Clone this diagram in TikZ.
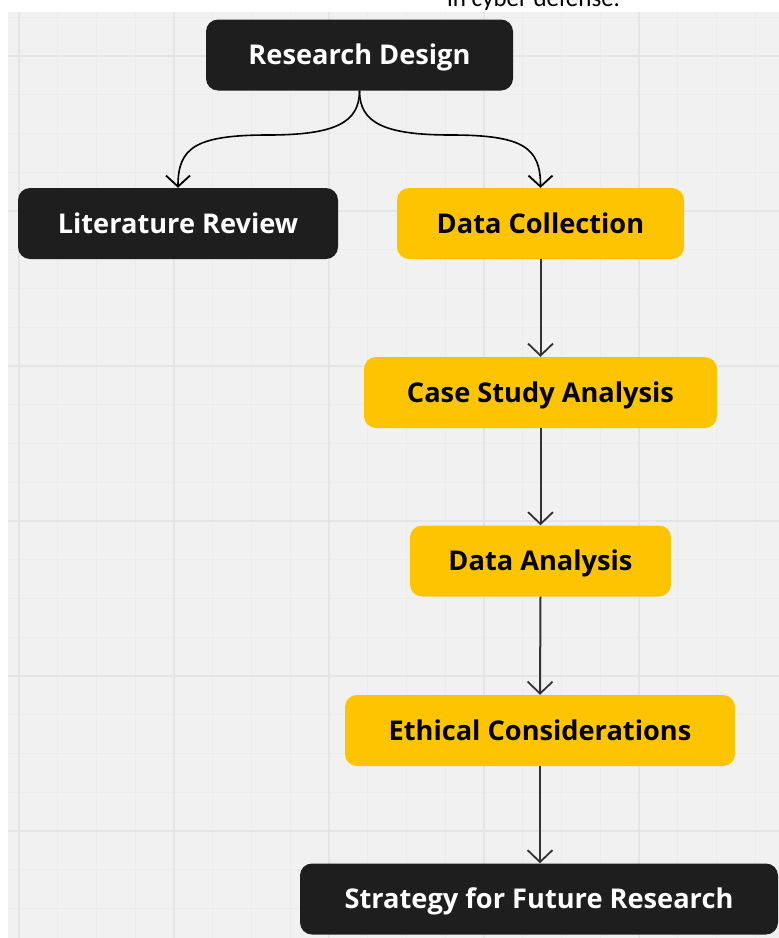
\documentclass[tikz,border=0pt]{standalone}
\usepackage{fontspec}
\setmainfont{Open Sans}
\newfontfamily\notefont{Carlito}
\usetikzlibrary{arrows.meta,calc}

\definecolor{canvas}{HTML}{F1F1F1}
\definecolor{gridminor}{HTML}{ECECEC}
\definecolor{gridmajor}{HTML}{E5E5E5}
\definecolor{darkbox}{HTML}{1E1E1E}
\definecolor{ambbox}{HTML}{FFC400}
\definecolor{linkgrey}{HTML}{333333}

\tikzset{
  flowbox/.style={rounded corners=12pt, inner sep=0pt, align=center,
    minimum height=71pt, text height=19.4pt, text depth=0pt,
    font=\fontsize{27.2}{31}\selectfont\bfseries},
  darkstep/.style={flowbox, fill=darkbox, text=white},
  ambstep/.style={flowbox, fill=ambbox, text=black},
  vlink/.style={draw=linkgrey, line width=2pt,
    -{Straight Barb[length=12pt, width=25pt, line width=1.8pt]}},
  clink/.style={draw=black, line width=1.6pt,
    -{Straight Barb[length=11pt, width=24pt, line width=1.8pt]}},
}

\begin{document}
\begin{tikzpicture}[x=1pt, y=-1pt]
\useasboundingbox (0,0) rectangle (779,938);
\fill[white] (0,0) rectangle (779,938);

% squared paper canvas
\begin{scope}
  \clip (8,12) rectangle (779,938);
  \fill[canvas] (8,12) rectangle (779,938);
  \foreach \i in {-1,...,20} {
    \draw[gridminor, line width=1pt] ({19+38.75*\i},12) -- ({19+38.75*\i},938);
  }
  \foreach \i in {-1,...,23} {
    \draw[gridminor, line width=1pt] (8,{56+38.75*\i}) -- (779,{56+38.75*\i});
  }
  \foreach \i in {0,...,5} {
    \draw[gridmajor, line width=1.1pt] ({19+155*\i},12) -- ({19+155*\i},938);
  }
  \foreach \i in {-1,...,6} {
    \draw[gridmajor, line width=1.1pt] (8,{56+155*\i}) -- (779,{56+155*\i});
  }
\end{scope}

% trailing line of the caption above the chart
\begin{scope}
  \clip (0,0) rectangle (779,12);
  \node[anchor=base west, inner sep=0pt, font=\notefont\fontsize{25}{30}\selectfont]
    (note) at (447,6) {in cyber defense.};
\end{scope}

% steps
\node[darkstep, minimum width=307pt] (design)   at (359.5,55)  {Research Design};
\node[darkstep, minimum width=320pt] (litrev)   at (178,223.5) {Literature Review};
\node[ambstep,  minimum width=287pt] (collect)  at (540.5,223.5) {Data Collection};
\node[ambstep,  minimum width=353pt] (casestudy) at (540.5,392.5) {Case Study Analysis};
\node[ambstep,  minimum width=261pt] (analysis) at (540.5,561) {Data Analysis};
\node[ambstep,  minimum width=390pt] (ethics)   at (540,730.5) {Ethical Considerations};
\node[darkstep, minimum width=478pt] (strategy) at (539,899)   {Strategy for Future Research};

% branching links from the design step
\coordinate (split) at (design.south);
\draw[clink] (split) .. controls ($(split)+(0,32)$) and (335,135) .. (268,135)
  .. controls (195,135) and (178,148) .. (litrev.north);
\draw[clink] (split) .. controls ($(split)+(0,32)$) and (384,135) .. (451,135)
  .. controls (524,135) and (540.5,148) .. (collect.north);

% straight chain
\draw[vlink] (collect.south)   -- (casestudy.north);
\draw[vlink] (casestudy.south) -- (analysis.north);
\draw[vlink] (analysis.south)  -- (ethics.north);
\draw[vlink] (ethics.south)    -- (strategy.north -| ethics.south);
\end{tikzpicture}
\end{document}
